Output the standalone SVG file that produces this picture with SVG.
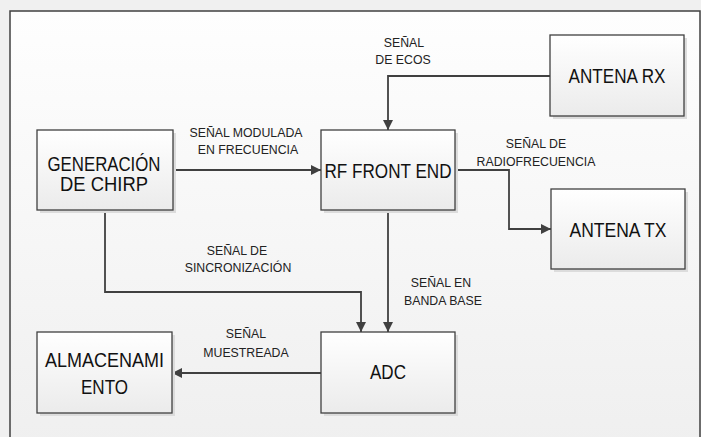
<svg xmlns="http://www.w3.org/2000/svg" width="701" height="437" viewBox="0 0 701 437">
<defs>
<linearGradient id="bg" x1="0" y1="0" x2="0" y2="1">
<stop offset="0" stop-color="#fefefe"/>
<stop offset="1" stop-color="#efefef"/>
</linearGradient>
<linearGradient id="box" x1="0" y1="0" x2="0" y2="1">
<stop offset="0" stop-color="#ffffff"/>
<stop offset="1" stop-color="#ebebeb"/>
</linearGradient>
<marker id="arr" viewBox="0 0 10 10" refX="10" refY="5" markerWidth="10" markerHeight="10" markerUnits="userSpaceOnUse" orient="auto">
<path d="M0,0 L10,5 L0,10 z" fill="#404040"/>
</marker>
<style>
.box{fill:url(#box);stroke:#404040;stroke-width:1.3}
.sh{fill:#dcdcdc}
.big{font-family:"Liberation Sans",sans-serif;font-size:20px;fill:#111;text-anchor:middle}
.lbl{font-family:"Liberation Sans",sans-serif;font-size:12.3px;fill:#222;text-anchor:middle}
.cn{fill:none;stroke:#404040;stroke-width:1.8}
</style>
</defs>
<rect x="0" y="0" width="701" height="437" fill="#f0f0f0"/>
<rect x="10" y="11" width="690" height="440" fill="url(#bg)" stroke="#404040" stroke-width="1.5"/>
<g id="connectors">
<polyline class="cn" points="550,76 388,76 388,130" marker-end="url(#arr)"/>
<polyline class="cn" points="173,170 321,170" marker-end="url(#arr)"/>
<polyline class="cn" points="455,170 509,170 509,229 551,229" marker-end="url(#arr)"/>
<polyline class="cn" points="105,210 105,292 361,292 361,332" marker-end="url(#arr)"/>
<polyline class="cn" points="388,210 388,332" marker-end="url(#arr)"/>
<polyline class="cn" points="321,373 172,373" marker-end="url(#arr)"/>
<text class="lbl" x="404" y="47">SEÑAL</text>
<text class="lbl" x="403" y="63.5">DE ECOS</text>
<text class="lbl" x="246" y="136.5">SEÑAL MODULADA</text>
<text class="lbl" x="248" y="153.5">EN FRECUENCIA</text>
<text class="lbl" x="536" y="147.5">SEÑAL DE</text>
<text class="lbl" x="536" y="166">RADIOFRECUENCIA</text>
<text class="lbl" x="237" y="254.5">SEÑAL DE</text>
<text class="lbl" x="238" y="271.5">SINCRONIZACIÓN</text>
<text class="lbl" x="441" y="286.5">SEÑAL EN</text>
<text class="lbl" x="443" y="304.5">BANDA BASE</text>
<text class="lbl" x="246" y="337.5">SEÑAL</text>
<text class="lbl" x="246" y="356.5">MUESTREADA</text>
</g>
<g id="antena-rx">
<rect class="sh" x="553" y="38" width="134" height="81"/>
<rect class="box" x="550" y="35" width="134" height="81"/>
<text class="big" x="617" y="83" textLength="97" lengthAdjust="spacingAndGlyphs">ANTENA RX</text>
</g>
<g id="generacion-chirp">
<rect class="sh" x="40" y="133" width="136" height="80"/>
<rect class="box" x="37" y="130" width="136" height="80"/>
<text class="big" x="104" y="170.5" textLength="113" lengthAdjust="spacingAndGlyphs">GENERACIÓN</text>
<text class="big" x="104" y="191" textLength="88" lengthAdjust="spacingAndGlyphs">DE CHIRP</text>
</g>
<g id="rf-front-end">
<rect class="sh" x="324" y="133" width="134" height="80"/>
<rect class="box" x="321" y="130" width="134" height="80"/>
<text class="big" x="388" y="178" textLength="127" lengthAdjust="spacingAndGlyphs">RF FRONT END</text>
</g>
<g id="antena-tx">
<rect class="sh" x="554" y="192" width="134" height="80"/>
<rect class="box" x="551" y="189" width="134" height="80"/>
<text class="big" x="618" y="237" textLength="97" lengthAdjust="spacingAndGlyphs">ANTENA TX</text>
</g>
<g id="almacenamiento">
<rect class="sh" x="40" y="335" width="135" height="81"/>
<rect class="box" x="37" y="332" width="135" height="81"/>
<text class="big" x="104.5" y="367" textLength="119" lengthAdjust="spacingAndGlyphs">ALMACENAMI</text>
<text class="big" x="104.5" y="394" textLength="47" lengthAdjust="spacingAndGlyphs">ENTO</text>
</g>
<g id="adc">
<rect class="sh" x="324" y="335" width="134" height="81"/>
<rect class="box" x="321" y="332" width="134" height="81"/>
<text class="big" x="388" y="379" textLength="36" lengthAdjust="spacingAndGlyphs">ADC</text>
</g>
</svg>
